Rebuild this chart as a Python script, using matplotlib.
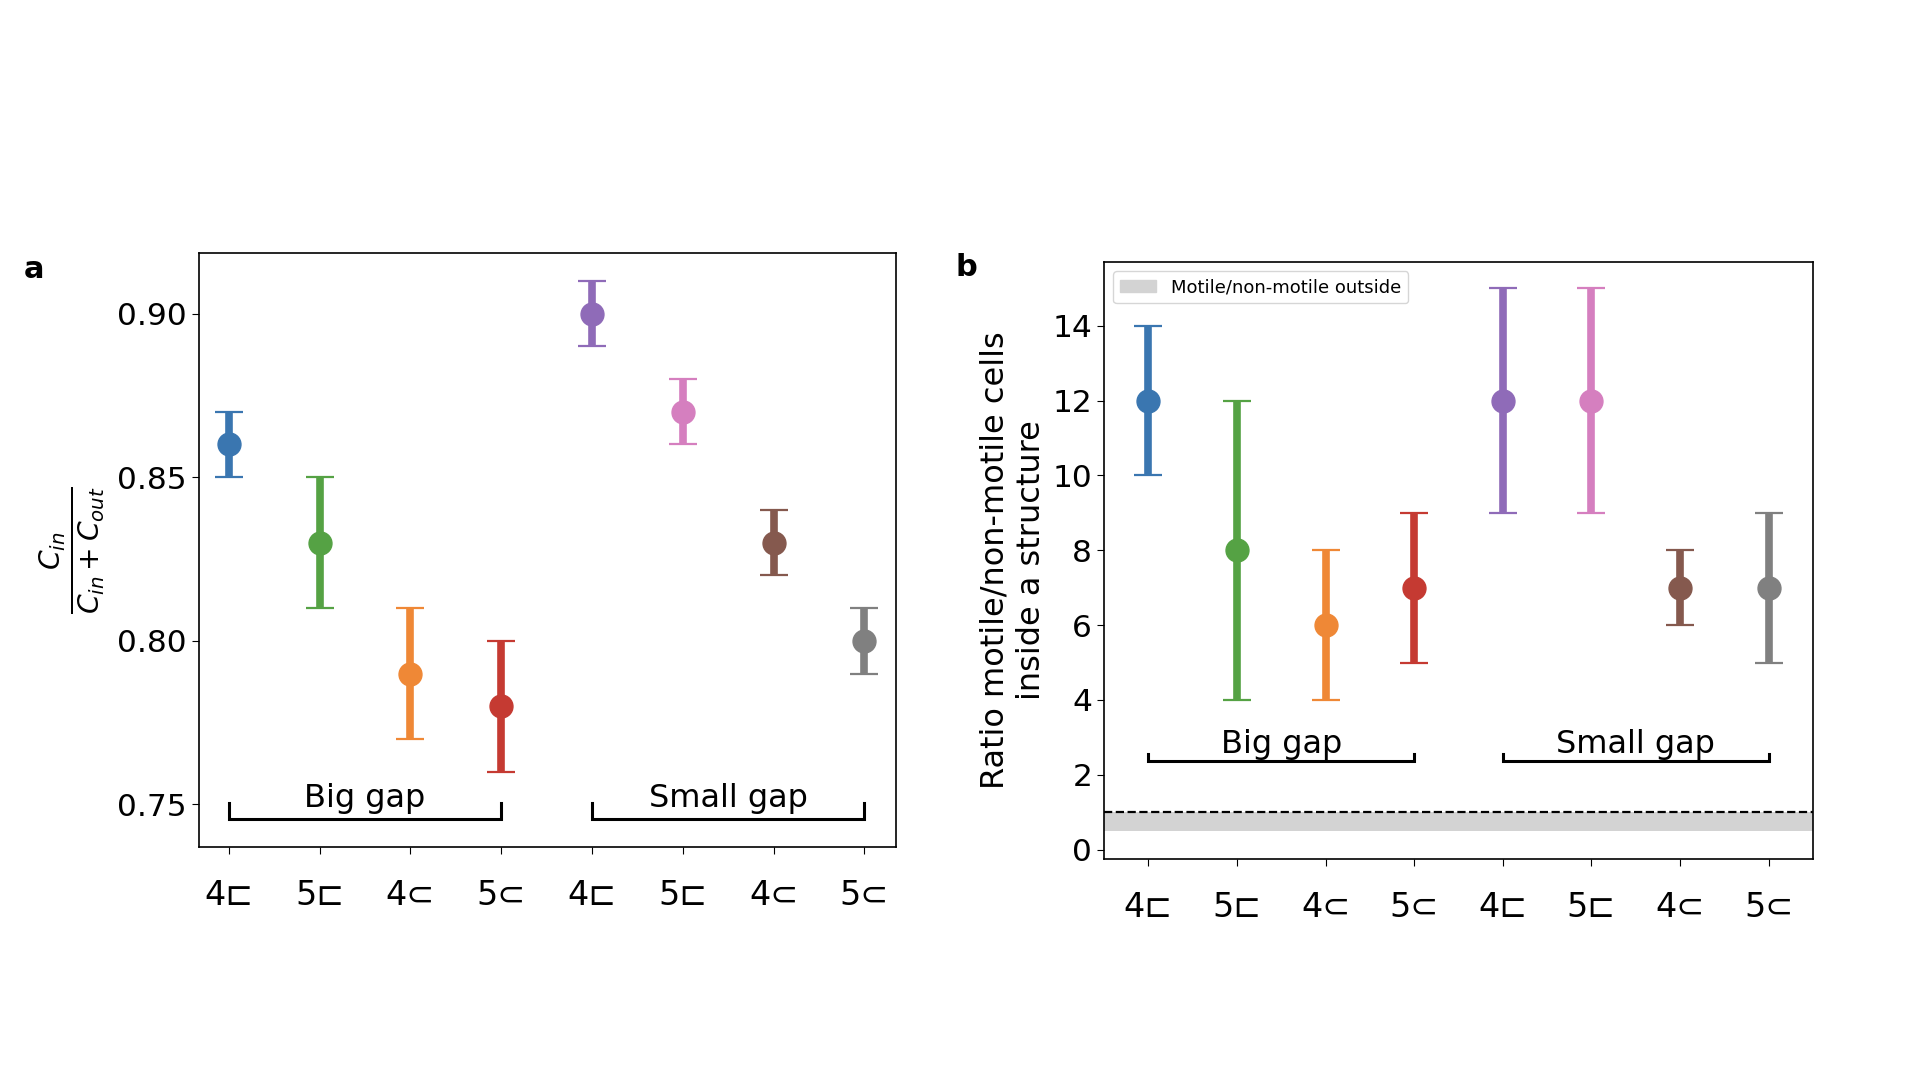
import numpy as np
import matplotlib
matplotlib.use("Agg")
import matplotlib.pyplot as plt
from matplotlib.patches import Patch

labels = ['4⊏', '5⊏', '4⊂', '5⊂', '4⊏', '5⊏', '4⊂', '5⊂']
colors = ['#3a76b0', '#55a244', '#ef8836', '#c53a32',
          '#8f6bb8', '#d57fbf', '#85594e', '#808080']

# panel a: Cin/(Cin+Cout)
frac_mid = [0.86, 0.83, 0.79, 0.78, 0.90, 0.87, 0.83, 0.80]
frac_lo = [0.85, 0.81, 0.77, 0.76, 0.89, 0.86, 0.82, 0.79]
frac_hi = [0.87, 0.85, 0.81, 0.80, 0.91, 0.88, 0.84, 0.81]

# panel b: ratio motile / non-motile inside
ratio_mid = [12, 8, 6, 7, 12, 12, 7, 7]
ratio_lo = [10, 4, 4, 5, 9, 9, 6, 5]
ratio_hi = [14, 12, 8, 9, 15, 15, 8, 9]

groups = ['Big gap', 'Small gap']
group_span = [(0, 3), (4, 7)]

fig = plt.figure(figsize=(19.2, 10.8), dpi=100)
ax1 = fig.add_axes([0.1036, 0.2157, 0.3631, 0.5500])
ax2 = fig.add_axes([0.5750, 0.2046, 0.3693, 0.5528])


def draw_points(ax, mid, lo, hi):
    x = np.arange(len(mid))
    for i in range(len(mid)):
        ax.errorbar(x[i], mid[i], yerr=[[mid[i] - lo[i]], [hi[i] - mid[i]]],
                    fmt='o', color=colors[i], ms=16.5, elinewidth=5.5,
                    capsize=10, capthick=1.6)
    ax.set_xticks(x)
    ax.set_xticklabels(labels, fontsize=24)
    ax.tick_params(axis='x', length=5, pad=18)
    ax.tick_params(axis='y', labelsize=22.5, length=5)
    for s in ax.spines.values():
        s.set_linewidth(1.2)


def bracket(ax, y, h, ytext):
    for name, (a, b) in zip(groups, group_span):
        ax.plot([a, a, b, b], [y + h, y, y, y + h], color='black', lw=2.2,
                solid_joinstyle='miter')
        ax.text((a + b) / 2, ytext, name, ha='center', va='baseline', fontsize=23)


draw_points(ax1, frac_mid, frac_lo, frac_hi)
ax1.set_xlim(-0.33, 7.35)
ax1.set_ylim(0.737, 0.9185)
ax1.set_yticks([0.75, 0.80, 0.85, 0.90])
ax1.set_yticklabels(['0.75', '0.80', '0.85', '0.90'])
bracket(ax1, 0.7455, 0.005, 0.7492)
ax1.set_ylabel(r'$\frac{C_{in}}{C_{in}+C_{out}}$', fontsize=29, labelpad=8)

draw_points(ax2, ratio_mid, ratio_lo, ratio_hi)
ax2.set_xlim(-0.5, 7.5)
ax2.set_ylim(-0.25, 15.7)
ax2.set_yticks(range(0, 15, 2))
ax2.axhspan(0.5, 1.0, color='lightgray', lw=0, zorder=0)
ax2.axhline(1.0, color='black', ls='--', lw=1.6)
bracket(ax2, 2.36, 0.2, 2.59)
ax2.set_ylabel('Ratio motile/non-motile cells\ninside a structure', fontsize=23)
ax2.legend(handles=[Patch(color='lightgray', label='Motile/non-motile outside')],
           loc='upper left', fontsize=13)

fig.text(0.0125, 0.75, 'a', fontsize=22, fontweight='bold', va='center')
fig.text(0.4975, 0.752, 'b', fontsize=22, fontweight='bold', va='center')

fig.savefig('out.png', dpi=100)
